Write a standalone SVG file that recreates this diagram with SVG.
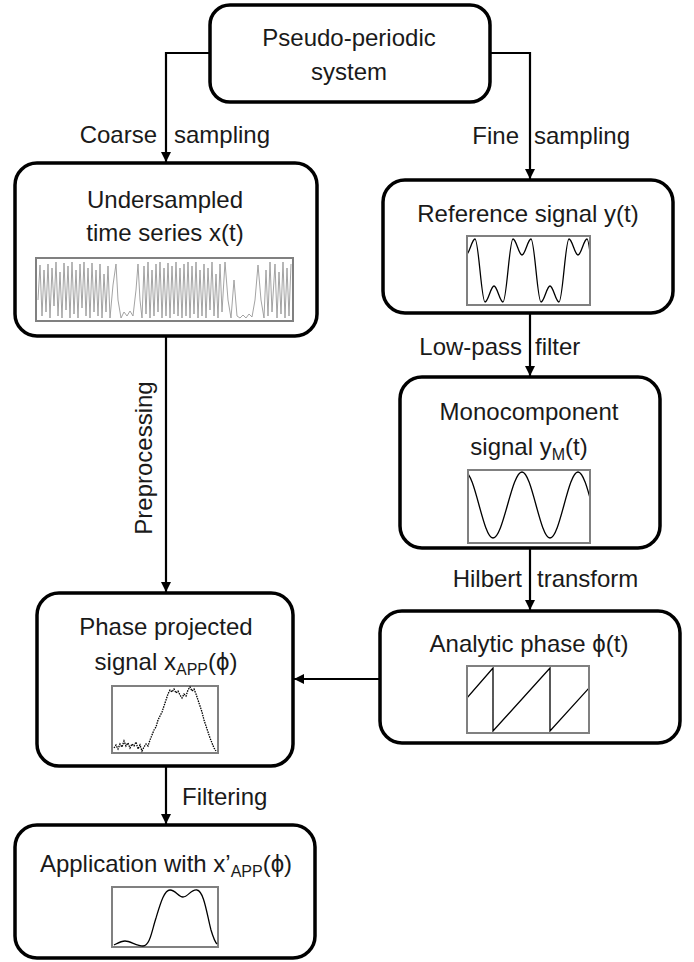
<svg xmlns="http://www.w3.org/2000/svg" width="694" height="962" viewBox="0 0 694 962">
<style>
.box{fill:#fff;stroke:#000;stroke-width:3.5}
.t{font-family:"Liberation Sans",Arial,sans-serif;font-size:24px;fill:#1a1a1a}
.c{text-anchor:middle}
.e{text-anchor:end}
.sub{font-size:16px}
.plot{fill:#fff;stroke:#808080;stroke-width:2}
.sig{fill:none;stroke:#000;stroke-width:1.3}
.conn{fill:none;stroke:#000;stroke-width:2.2}
</style>
<defs>
<marker id="ah" markerUnits="userSpaceOnUse" markerWidth="11" markerHeight="11" refX="10" refY="5" orient="auto">
<path d="M0,0 L10,5 L0,10 z" fill="#000"/>
</marker>
<clipPath id="cpU"><rect x="37" y="259" width="255" height="61"/></clipPath>
<clipPath id="cpR"><rect x="468" y="237" width="121" height="67"/></clipPath>
<clipPath id="cpM"><rect x="469" y="471" width="120" height="71"/></clipPath>
<clipPath id="cpA"><rect x="468" y="667" width="120" height="65"/></clipPath>
</defs>

<g id="connectors">
<polyline class="conn" points="210,53 166,53 166,162" marker-end="url(#ah)"/>
<polyline class="conn" points="490,53 530,53 530,179" marker-end="url(#ah)"/>
<line class="conn" x1="166" y1="336" x2="166" y2="592" marker-end="url(#ah)"/>
<line class="conn" x1="530" y1="313" x2="530" y2="376" marker-end="url(#ah)"/>
<line class="conn" x1="530" y1="548" x2="530" y2="610" marker-end="url(#ah)"/>
<line class="conn" x1="380" y1="679" x2="294" y2="679" marker-end="url(#ah)"/>
<line class="conn" x1="166" y1="766" x2="166" y2="824" marker-end="url(#ah)"/>
<text class="t e" x="157" y="143">Coarse</text>
<text class="t" x="174" y="143">sampling</text>
<text class="t e" x="519" y="144">Fine</text>
<text class="t" x="534" y="144">sampling</text>
<text class="t c" transform="translate(152,458) rotate(-90)">Preprocessing</text>
<text class="t e" x="522" y="355">Low-pass</text>
<text class="t" x="535" y="355">filter</text>
<text class="t e" x="522" y="587">Hilbert</text>
<text class="t" x="537" y="587">transform</text>
<text class="t" x="182" y="805">Filtering</text>
</g>

<g id="pseudo-periodic-system">
<rect class="box" x="210" y="5" width="280" height="97" rx="20"/>
<text class="t c" x="349" y="46">Pseudo-periodic</text>
<text class="t c" x="349" y="80">system</text>
</g>

<g id="undersampled">
<rect class="box" x="15" y="163" width="302" height="173" rx="22"/>
<text class="t c" x="165" y="208">Undersampled</text>
<text class="t c" x="165" y="241">time series x(t)</text>
<rect class="plot" x="36" y="258" width="257" height="63"/>
<g clip-path="url(#cpU)">
<polyline fill="none" stroke="#999" stroke-width="0.9" points="38,300 40,265 42,316 44,270 46,312 48,264 50,318 52,268 54,306 56,262 58,316 60,272 62,318 64,263 66,310 68,266 70,318 72,262 74,314 76,270 78,318 80,264 82,308 84,262 86,316 88,268 90,318 92,263 94,312 96,270 98,316 100,264 102,318 104,274 106,312 108,266 110,318 113,285 116,264 118,300 121,318 124,312 127,316 130,311 133,316 136,290 138,264 140,300 142,318 144,266 146,314 148,262 150,318 152,270 154,316 156,264 158,312 160,262 162,318 164,268 166,316 168,263 170,318 172,266 174,314 176,262 178,316 180,268 182,318 184,264 186,316 188,262 190,318 192,266 194,314 196,262 198,318 200,270 202,316 204,264 206,318 208,268 210,310 212,262 214,316 216,274 218,318 220,264 222,312 225,262 228,300 231,318 234,280 237,316 240,318 243,315 246,318 249,314 252,317 255,300 258,265 261,300 264,318 266,270 268,316 270,262 272,312 275,264 277,318 279,272 281,314 283,262 285,318 287,268 289,316 291,264"/>
</g>
</g>

<g id="reference-signal">
<rect class="box" x="383" y="180" width="290" height="133" rx="22"/>
<text class="t c" x="528" y="222">Reference signal y(t)</text>
<rect class="plot" x="467" y="236" width="123" height="69"/>
<path class="sig" clip-path="url(#cpR)" d="M466,255 C469.2,255 471.8,239 475,239 C478.6,239 481.4,302 485,302 C488.2,302 490.8,286 494,286 C497.2,286 499.8,302 503,302 C506.6,302 509.4,239 513,239 C516.2,239 518.8,255 522,255 C525.2,255 527.8,239 531,239 C534.6,239 537.4,302 541,302 C544.2,302 546.8,286 550,286 C553.2,286 555.8,302 559,302 C562.6,302 565.4,239 569,239 C572.2,239 574.8,255 578,255 C581.2,255 583.8,239 587,239 C590.6,239 593.4,302 597,302"/>
</g>

<g id="monocomponent">
<rect class="box" x="400" y="377" width="260" height="171" rx="22"/>
<text class="t c" x="529" y="420">Monocomponent</text>
<text class="t c" x="529" y="455">signal y<tspan class="sub" dy="5">M</tspan><tspan dy="-5">(t)</tspan></text>
<rect class="plot" x="468" y="470" width="122" height="73"/>
<path class="sig" clip-path="url(#cpM)" d="M465,472 C475,472 483,538 493,538 C503.4,538 511.6,472 522,472 C532,472 540,538 550,538 C560,538 568,472 578,472 C588,472 596,538 606,538"/>
</g>

<g id="analytic-phase">
<rect class="box" x="380" y="611" width="300" height="132" rx="22"/>
<text class="t c" x="529" y="652">Analytic phase ϕ(t)</text>
<rect class="plot" x="467" y="666" width="122" height="67"/>
<path class="sig" clip-path="url(#cpA)" d="M467,698 L493,668 L493,731 L550,668 L550,731 L589,688"/>
</g>

<g id="phase-projected">
<rect class="box" x="37" y="593" width="256" height="173" rx="22"/>
<text class="t c" x="166" y="635">Phase projected</text>
<text class="t c" x="166" y="670">signal x<tspan class="sub" dy="5">APP</tspan><tspan dy="-5">(ϕ)</tspan></text>
<rect class="plot" x="112" y="686" width="106" height="67"/>
<polyline fill="none" stroke="#000" stroke-width="1.3" stroke-dasharray="1.5 1" points="114,748 116,745 118,749 120,744 122,747 124,741 126,746 128,743 130,748 132,744 134,746 136,742 138,749 140,745 142,751 144,747 146,744 148,746 150,740 152,735 154,730 156,727 158,720 160,716 162,712 164,706 166,700 168,694 170,690 172,692 174,689 176,693 178,691 180,695 182,698 184,694 186,696 188,690 190,687 192,691 194,689 196,694 198,700 200,706 202,712 204,720 206,726 208,732 210,738 212,743 214,748 216,751"/>
</g>

<g id="application">
<rect class="box" x="15" y="825" width="300" height="133" rx="22"/>
<text class="t c" x="166" y="872">Application with x’<tspan class="sub" dy="5">APP</tspan><tspan dy="-5">(ϕ)</tspan></text>
<rect class="plot" x="112" y="887" width="106" height="60"/>
<path class="sig" d="M114,945 C118,943 121,941 125,941 C130,941 137,946 143,946 C150,946 152,930 156,918 C160,905 164,890 170,890 C176,890 178,897 183,897 C188,897 191,889 197,890 C204,891 207,915 211,930 C214,940 216,943 217,944"/>
</g>
</svg>
